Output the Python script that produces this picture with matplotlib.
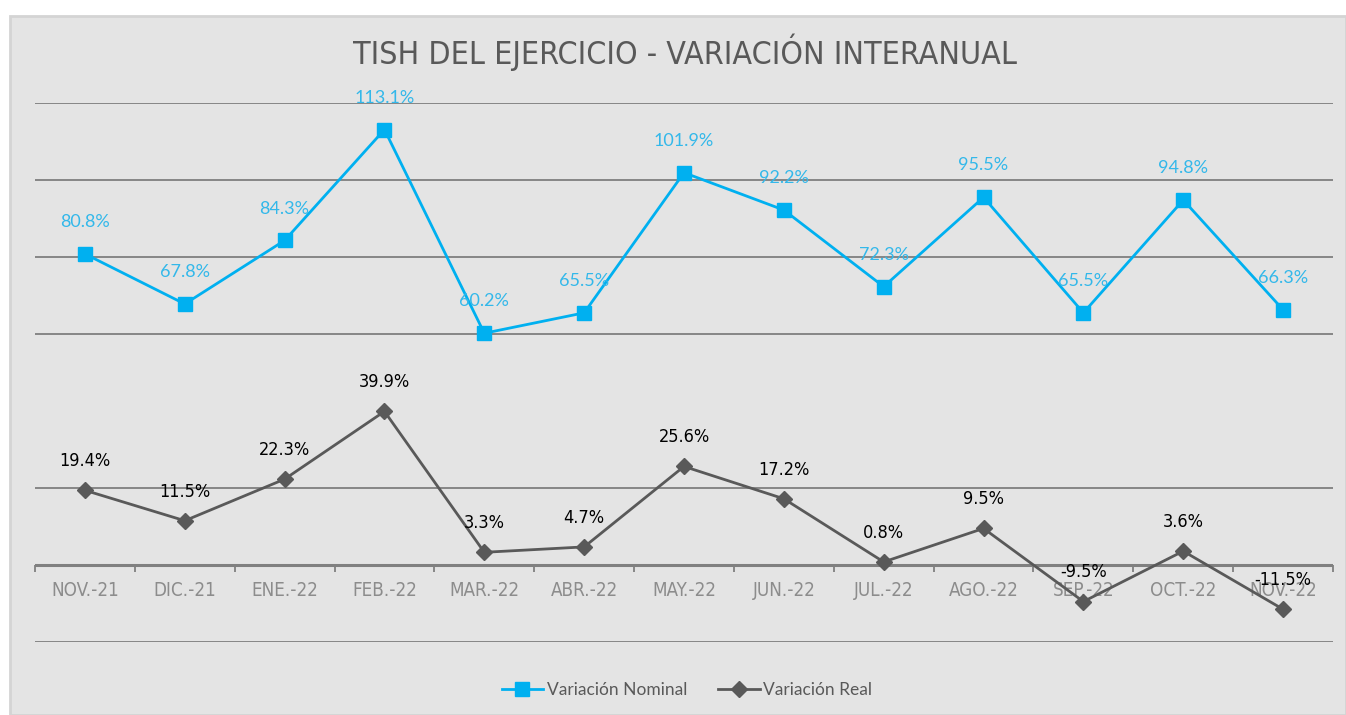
import numpy as np
import matplotlib.pyplot as plt
from matplotlib.patches import Rectangle

meses = ['NOV.-21', 'DIC.-21', 'ENE.-22', 'FEB.-22', 'MAR.-22', 'ABR.-22', 'MAY.-22',
         'JUN.-22', 'JUL.-22', 'AGO.-22', 'SEP.-22', 'OCT.-22', 'NOV.-22']
nominal = [80.8, 67.8, 84.3, 113.1, 60.2, 65.5, 101.9, 92.2, 72.3, 95.5, 65.5, 94.8, 66.3]
real = [19.4, 11.5, 22.3, 39.9, 3.3, 4.7, 25.6, 17.2, 0.8, 9.5, -9.5, 3.6, -11.5]
lineas = [-20, 20, 60, 80, 100, 120]

azul = '#00B0F0'
gris = '#595959'
cond = dict(family='DejaVu Sans', fontstretch='condensed')

fig = plt.figure(figsize=(13.46, 7.15), dpi=100)
# panel gris de fondo
fig.patches.append(Rectangle((10 / 1346, 0), 1 - 10 / 1346, 1 - 16 / 715,
                             transform=fig.transFigure, facecolor='#E4E4E4',
                             edgecolor='#D4D4D4', linewidth=2, zorder=-5))

ax = fig.add_axes([35 / 1346, 1 - 642 / 715, 1298 / 1346, 539 / 715])
ax.set_facecolor('none')
x = np.arange(len(meses))

ax.set_ylim(-20, 120)
ax.set_xlim(-0.5, len(meses) - 0.5)
ax.set_yticks(lineas)
ax.yaxis.grid(True, color='#7F7F7F', linewidth=1.3)
ax.set_axisbelow(True)
ax.tick_params(axis='y', length=0, labelleft=False)
for s in ['top', 'right', 'left', 'bottom']:
    ax.spines[s].set_visible(False)
ax.axhline(0, color='#808080', linewidth=2.2, zorder=1)

ax.set_xticks(np.arange(-0.5, len(meses)))
ax.set_xticklabels([])
ax.tick_params(axis='x', length=5, width=1.3, color='#808080', direction='out')
ax.spines['bottom'].set_position(('data', 0))
for xi, m in zip(x, meses):
    ax.text(xi, -4.2, m, ha='center', va='top', fontsize=13.5, color='#8C8C8C',
            zorder=2, **cond)

ax.plot(x, nominal, color=azul, linewidth=2, marker='s', markersize=10,
        label='Variación Nominal', zorder=3)
ax.plot(x, real, color=gris, linewidth=2, marker='D', markersize=8,
        label='Variación Real', zorder=3)

for xi, v in zip(x, nominal):
    ax.annotate(f'{v:.1f}%', (xi, v), xytext=(0, 23), textcoords='offset points',
                ha='center', va='center', fontsize=13, color='#33B8EA',
                family=['Lato', 'DejaVu Sans'], zorder=4)
for xi, v in zip(x, real):
    ax.annotate(f'{v:.1f}%', (xi, v), xytext=(0, 21), textcoords='offset points',
                ha='center', va='center', fontsize=13, color='black',
                zorder=4, **cond)

fig.text(0.509, 1 - 52 / 715, 'TISH DEL EJERCICIO - VARIACIÓN INTERANUAL',
         ha='center', va='center', fontsize=23, color=gris, **cond)

leg = fig.legend(loc='center', bbox_to_anchor=(687 / 1346, 1 - 690 / 715), ncol=2,
                 frameon=False, handlelength=2.4, columnspacing=1.8,
                 handletextpad=0.2, prop={'family': ['Lato', 'DejaVu Sans'], 'size': 12.5})
for t in leg.get_texts():
    t.set_color(gris)

fig.savefig('out.png', dpi=100, facecolor='white')
